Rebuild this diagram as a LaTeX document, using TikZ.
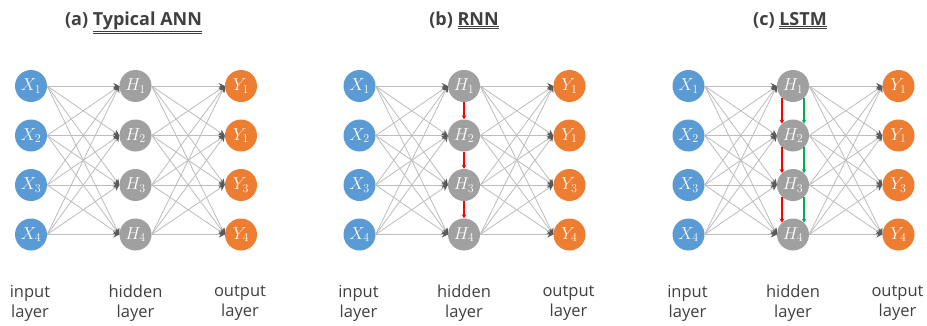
\documentclass[tikz,border=0pt]{standalone}
\usepackage{fontspec}
\setmainfont{Open Sans}
\DeclareMathSizes{17}{17}{12.5}{10}
\usetikzlibrary{arrows.meta}
\definecolor{inblue}{HTML}{5B9BD5}
\definecolor{hidgray}{HTML}{A0A0A0}
\definecolor{outorange}{HTML}{ED7D31}
\definecolor{edgegray}{HTML}{BDBDBD}
\definecolor{tipgray}{HTML}{5A5A5A}
\definecolor{redarr}{HTML}{FF0000}
\definecolor{greenarr}{HTML}{00B050}
\definecolor{txtgray}{HTML}{404040}
\begin{document}
\begin{tikzpicture}[x=1pt,y=-1pt,
  neuron/.style={circle,minimum size=32pt,inner sep=0pt,text=white,font=\fontsize{17}{17}\selectfont},
  inn/.style={neuron,fill=inblue},
  hid/.style={neuron,fill=hidgray},
  outn/.style={neuron,fill=outorange},
  conn/.style={draw=edgegray,line width=0.8pt,-{Stealth[length=6pt,width=6pt,color=tipgray]}},
  redlink/.style={draw=redarr,line width=1.2pt,-{Stealth[length=4pt,width=4.5pt]}},
  greenlink/.style={draw=greenarr,line width=1.2pt,-{Stealth[length=4pt,width=4.5pt]}},
  lbl/.style={align=center,inner sep=0pt,text=txtgray,font=\fontsize{16.5}{20}\selectfont},
  ttl/.style={inner sep=0pt,text=txtgray,font=\bfseries\fontsize{18}{20}\selectfont}
]
\useasboundingbox (0,0) rectangle (927,325);
\fill[white] (0,0) rectangle (927,325);

\foreach \p/\dx in {a/0,b/328.5,c/657.5}{
  \foreach \i/\yy/\ol in {1/86/1,2/135.5/1,3/185/3,4/234.5/4}{
    \node[inn] (\p x\i) at (31+\dx,\yy) {$X_{\i}$};
    \node[hid] (\p h\i) at (135.5+\dx,\yy) {$H_{\i}$};
    \node[outn] (\p y\i) at (241+\dx,\yy) {$Y_{\ol}$};
  }
  \node[lbl] (\p in) at (30+\dx,303) {input\\layer};
  \node[lbl] (\p hl) at (135.5+\dx,303) {hidden\\layer};
  \node[lbl] (\p ol) at (240+\dx,303) {output\\layer};
}

\foreach \p in {a,b,c}{
  \foreach \i in {1,...,4}{
    \foreach \j in {1,...,4}{
      \draw[conn] (\p x\i.east) -- (\p h\j.west);
      \draw[conn] (\p h\i.east) -- (\p y\j.west);
    }
  }
}

% recurrent links
\foreach \i/\j in {1/2,2/3,3/4}{
  \draw[redlink] (bh\i.south) -- (bh\j.north);
  \draw[redlink] (ch\i.-133) -- (ch\j.133);
  \draw[greenlink] (ch\i.-47) -- (ch\j.47);
}

% titles
\node[ttl,anchor=base] (ta) at (133.5,25) {(a) $\underline{\underline{\hbox{Typical ANN}}}$};
\node[ttl,anchor=base] (tb) at (464,25) {(b) $\underline{\underline{\hbox{RNN}}}$};
\node[ttl,anchor=base] (tc) at (790,25) {(c) $\underline{\underline{\hbox{LSTM}}}$};
\end{tikzpicture}
\end{document}
